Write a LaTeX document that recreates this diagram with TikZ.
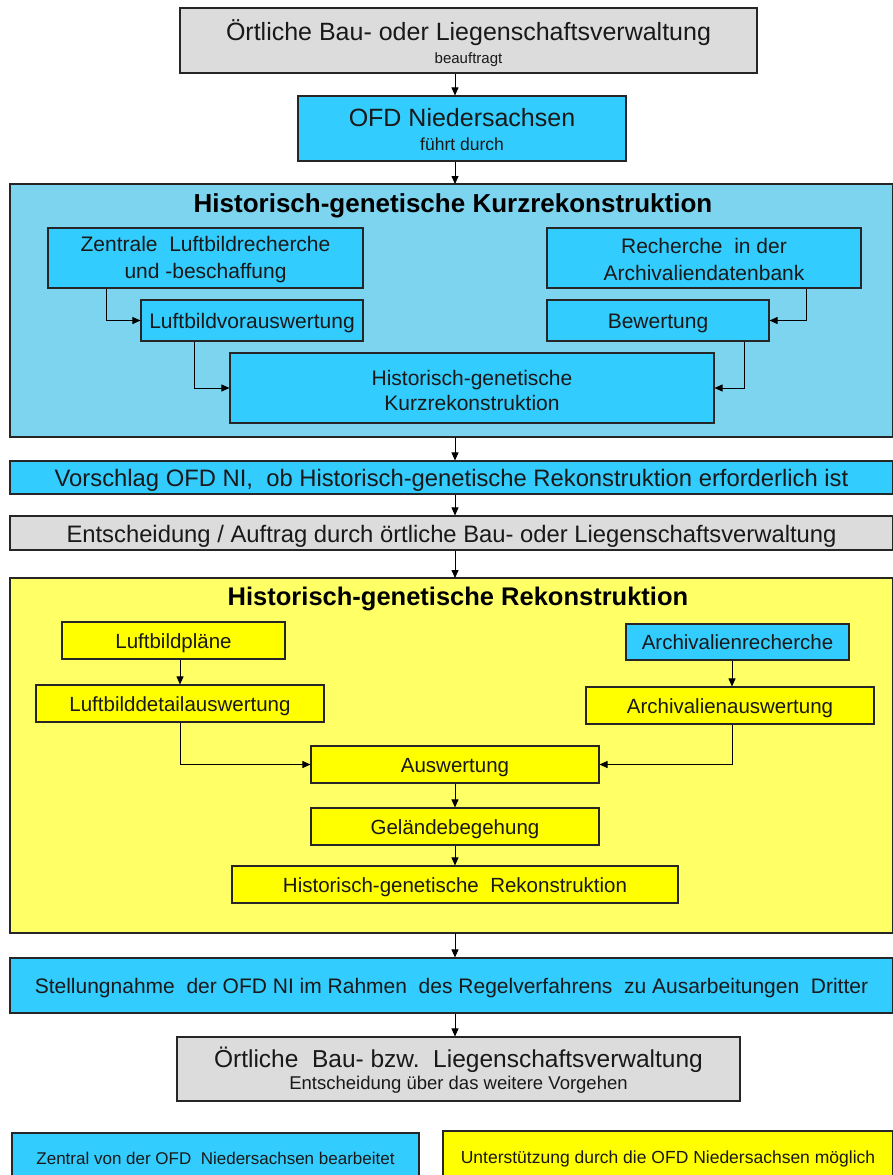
\documentclass[tikz,border=0pt]{standalone}
\usepackage{fontspec}
\setmainfont{Liberation Sans}
\usetikzlibrary{arrows.meta}
\definecolor{cblue}{HTML}{33CCFF}
\definecolor{clblue}{HTML}{7DD4EE}
\definecolor{cyel}{HTML}{FFFF00}
\definecolor{clyel}{HTML}{FFFF66}
\definecolor{cgrey}{HTML}{DCDCDC}
\newcommand{\fs}[1]{\fontsize{#1}{#1}\selectfont}
\tikzset{
  box/.style={draw=black!85, line width=1.1pt, inner sep=0pt, align=center, text=black!90},
  one/.style={font=\fs{#1}, text height=#1*0.76pt, text depth=0pt},
  txt/.style={align=center, text=black!90, inner sep=0pt},
  bluebox/.style={box, fill=cblue},
  yelbox/.style={box, fill=cyel},
  greybox/.style={box, fill=cgrey},
  cont/.style={draw=black!85, line width=1.1pt},
  arr/.style={line width=0.8pt, -{Triangle[length=8pt,width=7pt]}},
}
\begin{document}
\begin{tikzpicture}[x=1pt,y=-1pt]
\useasboundingbox (0,0) rectangle (892,1175);
\fill[white] (0,0) rectangle (892,1175);
\coordinate (ax) at (455,0);

% top
\node[greybox, minimum width=577pt, minimum height=65pt,
  label={[txt, name=b1t, yshift=-3pt]center:{\fs{25}Örtliche\ Bau-\ oder Liegenschaftsverwaltung\\[6pt]\fs{15}beauftragt}}] (b1) at (468.5,40.5) {};
\node[bluebox, minimum width=328pt, minimum height=65pt,
  label={[txt, name=b2t, yshift=-1pt]center:{\fs{25}OFD Niedersachsen\\[10pt]\fs{17.5}führt durch}}] (b2) at (462,128.5) {};

% container 1
\draw[cont, fill=clblue] (10,184) rectangle (893,437);
\node[font=\bfseries\fs{26}] (t1) at (453,206) {Historisch-genetische Kurzrekonstruktion};
\node[bluebox, minimum width=315pt, minimum height=60pt,
  label={[txt, name=zlt, yshift=-1.5pt]center:{\fs{21}Zentrale\ \ Luftbildrecherche\\[11pt]\fs{21}und -beschaffung}}] (zl) at (205.5,258) {};
\node[bluebox, minimum width=314pt, minimum height=60pt,
  label={[txt, name=rat, yshift=-1.5pt]center:{\fs{21}Recherche\ \ in der\\[11pt]\fs{21}Archivaliendatenbank}}] (ra) at (704,258) {};
\node[bluebox, one=21, minimum width=222pt, minimum height=41pt] (lv) at (252,320.5)
  {Luftbildvorauswertung};
\node[bluebox, one=21, minimum width=222pt, minimum height=41pt] (bw) at (658,320.5)
  {Bewertung};
\node[bluebox, minimum width=484pt, minimum height=70pt,
  label={[txt, name=krt, yshift=-2.5pt]center:{\fs{21}Historisch-genetische\\[5pt]\fs{21}Kurzrekonstruktion}}] (kr) at (472,388) {};
\coordinate (zlx) at (106,0);
\coordinate (lvx) at (194,0);
\coordinate (rax) at (806,0);
\coordinate (bwx) at (744,0);
\draw[arr] (zl.south -| zlx) |- (lv.west);
\draw[arr] (lv.south -| lvx) |- (kr.west);
\draw[arr] (ra.south -| rax) |- (bw.east);
\draw[arr] (bw.south -| bwx) |- (kr.west -| kr.east);

\node[bluebox, one=23.8, minimum width=883pt, minimum height=33pt] (vs) at (451.5,477.5)
  {Vorschlag OFD NI,\ \ ob Historisch-genetische Rekonstruktion erforderlich ist};
\node[greybox, one=23.8, minimum width=883pt, minimum height=34pt] (en) at (451.5,533)
  {Entscheidung / Auftrag durch örtliche Bau- oder Liegenschaftsverwaltung};

% container 2
\draw[cont, fill=clyel] (10,578) rectangle (893,933);
\node[font=\bfseries\fs{25.5}] (t2) at (458,599) {Historisch-genetische Rekonstruktion};
\node[yelbox, one=20.5, minimum width=223pt, minimum height=37pt] (lp) at (173.5,640.5)
  {Luftbildpläne};
\node[yelbox, one=20.5, minimum width=288pt, minimum height=37pt] (ld) at (180,703.5)
  {Luftbilddetailauswertung};
\node[bluebox, one=20.5, minimum width=223pt, minimum height=36pt] (ar) at (737.5,642)
  {Archivalienrecherche};
\node[yelbox, one=20.5, minimum width=288pt, minimum height=37pt] (aa) at (730,705.5)
  {Archivalienauswertung};
\node[yelbox, one=20.5, minimum width=288pt, minimum height=37pt] (au) at (455,764.5)
  {Auswertung};
\node[yelbox, one=20.5, minimum width=288pt, minimum height=37pt] (gb) at (455,826.5)
  {Geländebegehung};
\node[yelbox, one=20.5, minimum width=446pt, minimum height=37pt] (hr) at (455,884.5)
  {Historisch-genetische\ \ Rekonstruktion};
\coordinate (lx) at (180,0);
\coordinate (rx) at (732,0);
\draw[arr] (lp.south -| lx) -- (ld.north -| lx);
\draw[arr] (ar.south -| rx) -- (aa.north -| rx);
\draw[arr] (ld.south -| lx) |- (au.west);
\draw[arr] (aa.south -| rx) |- (au.east);
\draw[arr] (au.south -| ax) -- (gb.north -| ax);
\draw[arr] (gb.south -| ax) -- (hr.north -| ax);

\node[bluebox, one=21, minimum width=883pt, minimum height=55pt] (st) at (451.5,985.5)
  {Stellungnahme\ \ der OFD NI im Rahmen\ \ des Regelverfahrens\ \ zu Ausarbeitungen\ \ Dritter};
\node[greybox, minimum width=563pt, minimum height=64pt,
  label={[txt, name=obt, yshift=-1pt]center:{\fs{24.5}Örtliche\ \ Bau- bzw.\ \ Liegenschaftsverwaltung\\[3pt]\fs{18.5}Entscheidung über das weitere Vorgehen}}] (ob) at (458.5,1069) {};

% main arrows
\coordinate (c1t) at (455,184);
\coordinate (c1b) at (455,437);
\coordinate (c2t) at (455,578);
\coordinate (c2b) at (455,933);
\draw[arr] (b1.south -| ax) -- (b2.north -| ax);
\draw[arr] (b2.south -| ax) -- (c1t);
\draw[arr] (c1b) -- (vs.north -| ax);
\draw[arr] (vs.south -| ax) -- (en.north -| ax);
\draw[arr] (en.south -| ax) -- (c2t);
\draw[arr] (c2b) -- (st.north -| ax);
\draw[arr] (st.south -| ax) -- (ob.north -| ax);

% legend
\node[bluebox, one=17, minimum width=407pt, minimum height=50pt] (lg1) at (215.5,1158)
  {Zentral von der OFD\ \ Niedersachsen bearbeitet};
\node[yelbox, one=17.5, minimum width=450pt, minimum height=52pt] (lg2) at (668,1157)
  {Unterstützung durch die OFD Niedersachsen möglich};
\end{tikzpicture}
\end{document}
